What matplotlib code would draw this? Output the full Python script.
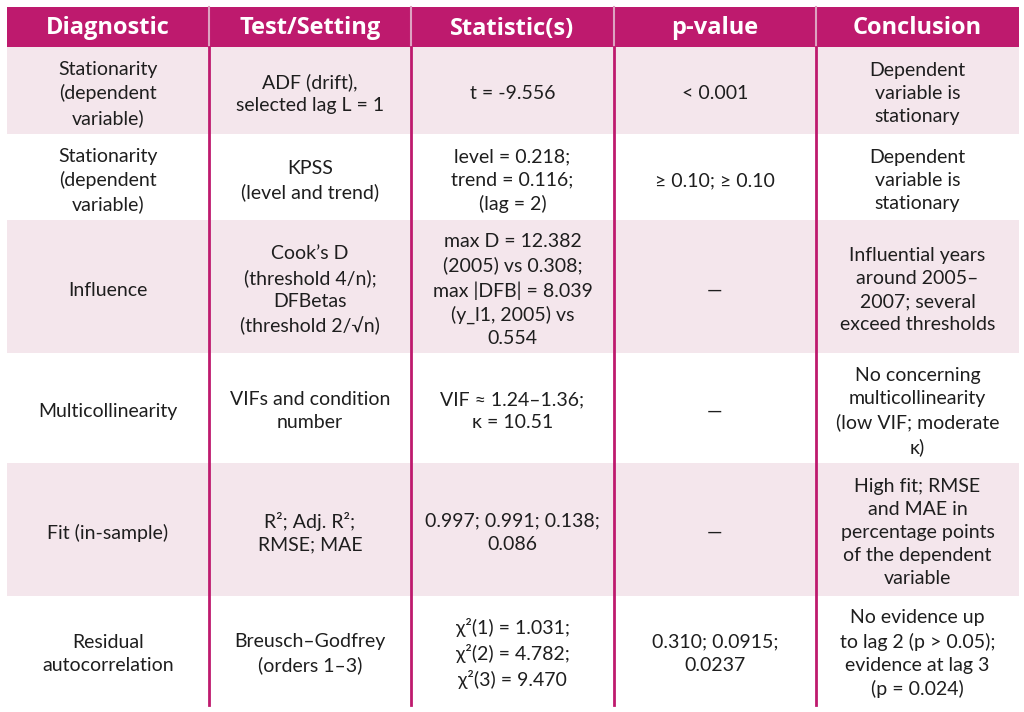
import matplotlib
matplotlib.use("Agg")
from matplotlib import pyplot as plt
from matplotlib.patches import Rectangle

plt.rcParams['font.family'] = ['Lato', 'DejaVu Sans']

# Contenido de la tabla
headers = ["Diagnostic", "Test/Setting", "Statistic(s)", "p-value", "Conclusion"]
diagnostics = [
    "Stationarity\n(dependent\nvariable)",
    "Stationarity\n(dependent\nvariable)",
    "Influence",
    "Multicollinearity",
    "Fit (in-sample)",
    "Residual\nautocorrelation",
]
tests = [
    "ADF (drift),\nselected lag L = 1",
    "KPSS\n(level and trend)",
    "Cook’s D\n(threshold 4/n);\nDFBetas\n(threshold 2/√n)",
    "VIFs and condition\nnumber",
    "R²; Adj. R²;\nRMSE; MAE",
    "Breusch–Godfrey\n(orders 1–3)",
]
statistics = [
    "t = -9.556",
    "level = 0.218;\ntrend = 0.116;\n(lag = 2)",
    "max D = 12.382\n(2005) vs 0.308;\nmax |DFB| = 8.039\n(y_l1, 2005) vs\n0.554",
    "VIF ≈ 1.24–1.36;\nκ = 10.51",
    "0.997; 0.991; 0.138;\n0.086",
    "χ²(1) = 1.031;\nχ²(2) = 4.782;\nχ²(3) = 9.470",
]
pvalues = [
    "< 0.001",
    "≥ 0.10; ≥ 0.10",
    "—",
    "—",
    "—",
    "0.310; 0.0915;\n0.0237",
]
conclusions = [
    "Dependent\nvariable is\nstationary",
    "Dependent\nvariable is\nstationary",
    "Influential years\naround 2005–\n2007; several\nexceed thresholds",
    "No concerning\nmulticollinearity\n(low VIF; moderate\nκ)",
    "High fit; RMSE\nand MAE in\npercentage points\nof the dependent\nvariable",
    "No evidence up\nto lag 2 (p > 0.05);\nevidence at lag 3\n(p = 0.024)",
]

columns = [diagnostics, tests, statistics, pvalues, conclusions]

# Estilos
MAGENTA = "#BE1A6E"
SHADE = "#F4E6EC"
TEXT = "#1E1E1E"

col_edges = [7, 209, 411, 614, 816, 1019]
top = 7
header_h = 40
line_h = 23
pad = 17.7

fig = plt.figure(figsize=(10.24, 7.12), dpi=100)
ax = fig.add_axes([0, 0, 1, 1])
ax.set_xlim(0, 1024)
ax.set_ylim(712, 0)
ax.axis('off')

# Cabecera
ax.add_patch(Rectangle((col_edges[0], top), col_edges[-1] - col_edges[0], header_h,
                       facecolor=MAGENTA, edgecolor='none'))
for i, h in enumerate(headers):
    cx = (col_edges[i] + col_edges[i + 1]) / 2
    ax.text(cx, top + header_h / 2 + 1.5, h, ha='center', va='center',
            color='white', fontsize=17, fontweight='bold',
            family=['Open Sans', 'DejaVu Sans'])
for x in col_edges[1:-1]:
    ax.plot([x, x], [top, top + header_h], color='#DDA3C1', lw=1.5)

# Filas
y = top + header_h
for r in range(len(diagnostics)):
    n_lines = max(col[r].count("\n") + 1 for col in columns)
    h = n_lines * line_h + pad
    if r % 2 == 0:
        ax.add_patch(Rectangle((col_edges[0], y), col_edges[-1] - col_edges[0], h,
                               facecolor=SHADE, edgecolor='none'))
    for c, col in enumerate(columns):
        cx = (col_edges[c] + col_edges[c + 1]) / 2
        ax.text(cx, y + h / 2 + 3.5, col[r], ha='center', va='center', color=TEXT,
                fontsize=14, linespacing=1.43)
    y += h

for x in col_edges[1:-1]:
    ax.plot([x, x], [top + header_h, y], color=MAGENTA, lw=2)

fig.savefig("out.png", dpi=100, facecolor='white')
